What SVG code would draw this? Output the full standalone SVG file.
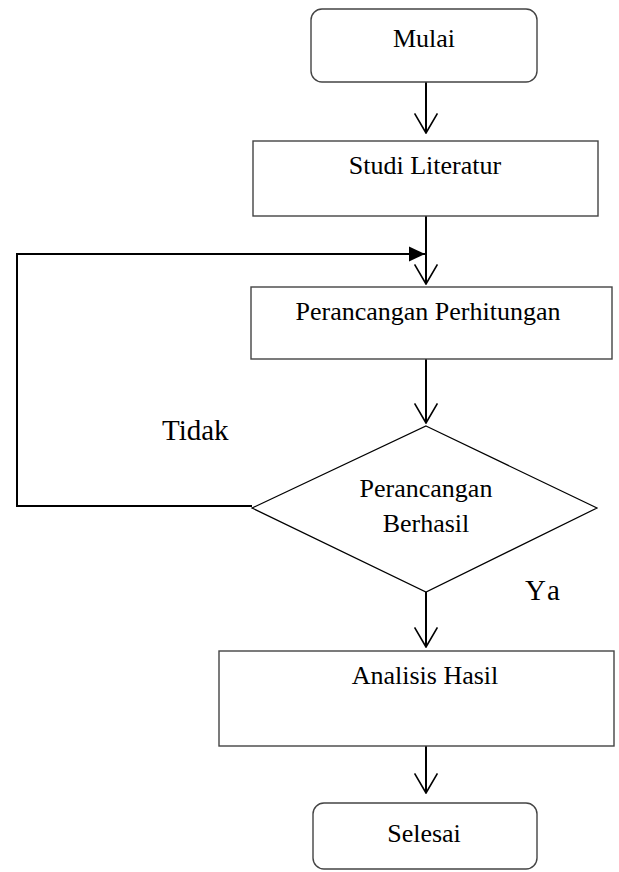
<svg xmlns="http://www.w3.org/2000/svg" width="619" height="872" viewBox="0 0 619 872">
<defs>
<marker id="open" markerWidth="22" markerHeight="24" refX="19" refY="11" orient="auto" markerUnits="userSpaceOnUse" viewBox="0 0 20 22">
<polyline points="1,0.5 19,11 1,21.5" fill="none" stroke="#000" stroke-width="1.5"/>
</marker>
<marker id="filled" markerWidth="18" markerHeight="16" refX="16" refY="8" orient="auto" markerUnits="userSpaceOnUse" viewBox="0 0 18 16">
<polygon points="0,0.5 16,8 0,15.5" fill="#000"/>
</marker>
<style>
.box{fill:#fff;stroke:#444;stroke-width:1.4}
.dia{fill:#fff;stroke:#000;stroke-width:1.2}
.t{font-family:"Liberation Serif","Times New Roman",serif;font-size:26px;fill:#000;text-anchor:middle}
.lbl{font-family:"Liberation Serif","Times New Roman",serif;font-size:29px;fill:#000}
.c{fill:none;stroke:#000;stroke-width:2}
</style>
</defs>
<rect width="619" height="872" fill="#fff"/>
<g id="connectors">
<line class="c" x1="426" y1="82" x2="426" y2="133" marker-end="url(#open)"/>
<line class="c" x1="426" y1="216" x2="426" y2="284" marker-end="url(#open)"/>
<polyline class="c" points="252,506 17,506 17,254 425,254" marker-end="url(#filled)"/>
<line class="c" x1="426" y1="359" x2="426" y2="423" marker-end="url(#open)"/>
<line class="c" x1="426" y1="592" x2="426" y2="647" marker-end="url(#open)"/>
<line class="c" x1="426" y1="746" x2="426" y2="793" marker-end="url(#open)"/>
</g>
<g id="mulai">
<rect class="box" x="311" y="9" width="226" height="73" rx="11"/>
<text class="t" x="424" y="47">Mulai</text>
</g>
<g id="studi">
<rect class="box" x="253" y="141" width="345" height="75"/>
<text class="t" x="425" y="174">Studi Literatur</text>
</g>
<g id="perancangan">
<rect class="box" x="251" y="287" width="361" height="72"/>
<text class="t" x="428" y="320">Perancangan Perhitungan</text>
</g>
<g id="keputusan">
<polygon class="dia" points="426,426 597,508 426,592 252,508"/>
<text class="t" x="426" y="497">Perancangan</text>
<text class="t" x="426" y="532">Berhasil</text>
</g>
<g id="analisis">
<rect class="box" x="219" y="651" width="395" height="95"/>
<text class="t" x="425" y="684">Analisis Hasil</text>
</g>
<g id="selesai">
<rect class="box" x="313" y="803" width="224" height="66" rx="11"/>
<text class="t" x="424" y="842">Selesai</text>
</g>
<g id="labels">
<text class="lbl" x="162" y="440">Tidak</text>
<text class="lbl" x="525" y="600" letter-spacing="4">Ya</text>
</g>
</svg>
